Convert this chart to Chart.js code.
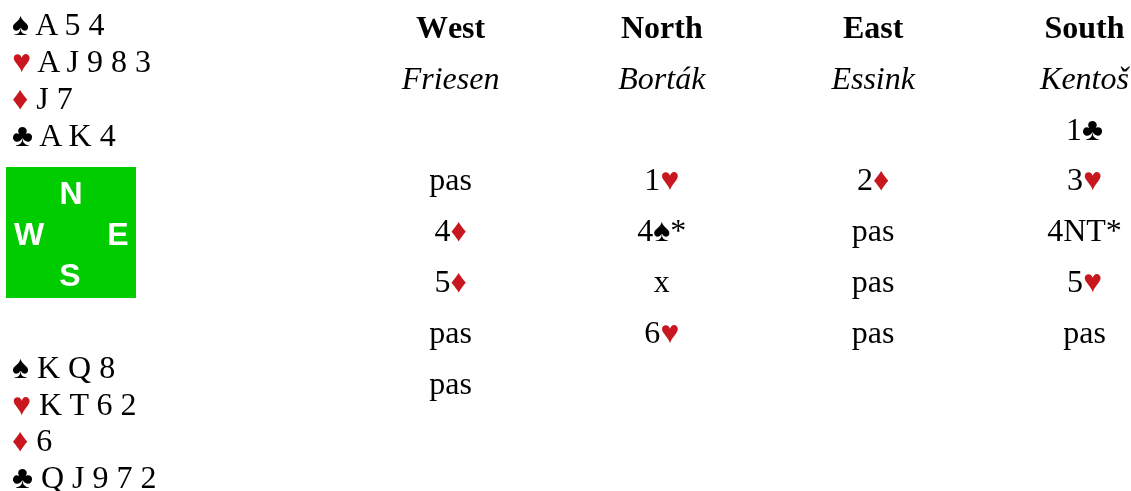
<!DOCTYPE html>
<html lang="nl">
<head>
  <meta charset="UTF-8">
  <title>Bieding</title>
  <script src="https://cdn.jsdelivr.net/npm/chart.js"></script>
  <style>
    html, body { margin: 0; padding: 0; background: #fff; }
    body { width: 1131px; height: 491px; position: relative; overflow: hidden; }
    #bieding { position: absolute; left: 0; top: 0; }
    .hand {
      position: absolute; left: 12px;
      font: 32px "Liberation Serif", serif; line-height: 37px; color: #000;
      white-space: pre;
    }
    #noord { top: 6px; }
    #zuid { top: 349px; line-height: 36.5px; }
    .rood { color: #c8171e; }
    .kompas {
      position: absolute; left: 6px; top: 167px; width: 130px; height: 131px;
      background: #00cc00;
      font: bold 32px "Liberation Sans", Arial, sans-serif; color: #fff;
    }
    .kompas span { position: absolute; transform: translate(-50%, -50%); line-height: 1; }
  </style>
</head>
<body>
  <canvas id="bieding" width="1131" height="491"></canvas>

  <div class="hand" id="noord"></div>
  <div class="kompas">
    <span style="left:65px; top:26px">N</span>
    <span style="left:23px; top:67px">W</span>
    <span style="left:112px; top:67px">E</span>
    <span style="left:64px; top:108px">S</span>
  </div>
  <div class="hand" id="zuid"></div>

  <script>
    // kolommen en spelers
    const windrichtingen = ['West', 'North', 'East', 'South'];
    const spelers = ['Friesen', 'Borták', 'Essink', 'Kentoš'];
    // bieding, begint bij West
    const biedingen = [
      '', '', '', '1♣',
      'pas', '1♥', '2♦', '3♥',
      '4♦', '4♠*', 'pas', '4NT*',
      '5♦', 'x', 'pas', '5♥',
      'pas', '6♥', 'pas', 'pas',
      'pas'
    ];
    // handen
    const kleuren = ['♠', '♥', '♦', '♣'];
    const noordHand = ['A 5 4', 'A J 9 8 3', 'J 7', 'A K 4'];
    const zuidHand = ['K Q 8', 'K T 6 2', '6', 'Q J 9 7 2'];

    const ROOD = '#c8171e';

    function vulHand(id, kaarten) {
      const el = document.getElementById(id);
      el.innerHTML = kaarten.map((k, i) => {
        const s = kleuren[i];
        const cls = (s === '♥' || s === '♦') ? ' class="rood"' : '';
        return '<span' + cls + '>' + s + '</span> ' + k;
      }).join('\n');
    }
    vulHand('noord', noordHand);
    vulHand('zuid', zuidHand);

    const kopData = windrichtingen.map((t, i) => ({ x: i, y: 0, t: t }));
    const spelerData = spelers.map((t, i) => ({ x: i, y: 1, t: t }));
    const biedData = biedingen
      .map((t, i) => ({ x: i % 4, y: 2 + Math.floor(i / 4), t: t }))
      .filter(d => d.t !== '');

    // tekst tekenen op de punten, harten en ruiten in rood
    const tekstPlugin = {
      id: 'tekstPlugin',
      afterDatasetsDraw(chart) {
        const c = chart.ctx;
        chart.data.datasets.forEach((ds, di) => {
          const meta = chart.getDatasetMeta(di);
          c.save();
          c.font = ds.lettertype;
          c.textBaseline = 'alphabetic';
          c.textAlign = 'left';
          meta.data.forEach((pt, j) => {
            const tekst = ds.data[j].t;
            const stukken = Array.from(tekst);
            const breedte = stukken.reduce((s, ch) => s + c.measureText(ch).width, 0);
            let x = pt.x - breedte / 2;
            stukken.forEach(ch => {
              c.fillStyle = (ch === '♥' || ch === '♦') ? ROOD : '#000';
              c.fillText(ch, x, pt.y);
              x += c.measureText(ch).width;
            });
          });
          c.restore();
        });
      }
    };

    new Chart(document.getElementById('bieding'), {
      type: 'scatter',
      data: {
        datasets: [
          { label: 'kop', data: kopData, pointRadius: 0, lettertype: 'bold 32px "Liberation Serif"' },
          { label: 'spelers', data: spelerData, pointRadius: 0, lettertype: 'italic 32px "Liberation Serif"' },
          { label: 'bieding', data: biedData, pointRadius: 0, lettertype: '32px "Liberation Serif"' }
        ]
      },
      options: {
        responsive: false,
        animation: false,
        events: [],
        layout: { padding: 0 },
        plugins: { legend: { display: false }, tooltip: { enabled: false } },
        scales: {
          x: { type: 'linear', display: false, min: -2.132, max: 3.22 },
          y: { type: 'linear', display: false, reverse: true, min: -0.748, max: 8.917 }
        }
      },
      plugins: [tekstPlugin]
    });
  </script>
</body>
</html>
